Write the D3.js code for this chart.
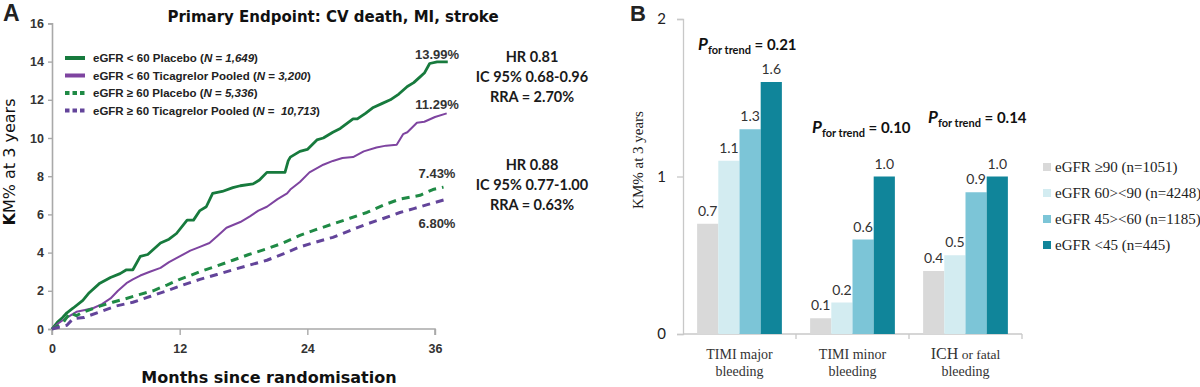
<!DOCTYPE html>
<html><head><meta charset="utf-8">
<script src="https://cdn.jsdelivr.net/npm/d3@7"></script>
<style>html,body{margin:0;padding:0;background:#fff;}svg{display:block;}</style>
</head><body>
<svg id="chart" width="1200" height="387"></svg>
<script>
// ---------- Panel A data ----------
const placeboLow = [[0,0],[0.5,0.35],[1,0.6],[1.4,0.85],[2,1.1],[2.9,1.5],[3.5,1.9],[4.5,2.4],[5.5,2.7],[6.4,2.9],[7,3.1],[7.6,3.1],[8.3,3.8],[9,3.9],[10.2,4.5],[11,4.7],[11.7,5.0],[12.7,5.7],[13.3,5.7],[13.9,6.2],[14.5,6.4],[15.1,7.1],[16,7.2],[17,7.4],[17.7,7.5],[18.9,7.6],[19.5,7.8],[20.2,8.2],[20.8,8.2],[21.9,8.2],[22.2,8.8],[22.4,9.0],[23.3,9.3],[24,9.4],[24.9,9.9],[25.5,10.0],[26.4,10.3],[27.1,10.5],[28.3,11.0],[28.7,11.0],[29.5,11.3],[30.2,11.6],[31,11.8],[31.8,12.0],[32.6,12.3],[33.4,12.7],[34,12.9],[34.6,13.2],[35,13.4],[35.5,13.9],[36.2,13.99],[37.2,13.99]];
const ticagLow = [[0,0],[0.6,0.3],[1.4,0.6],[2.3,0.9],[3.1,1.0],[3.9,1.1],[4.7,1.3],[5.5,1.6],[6.2,2.0],[7,2.4],[7.6,2.6],[8.3,2.8],[9.2,3.0],[10.2,3.2],[11,3.5],[12,3.8],[13,4.1],[13.9,4.3],[14.8,4.5],[15.6,4.9],[16.4,5.3],[17.7,5.6],[18.6,5.9],[19.4,6.2],[20.2,6.4],[21.2,6.8],[22.1,7.1],[22.4,7.3],[23.3,7.7],[24.2,8.2],[25.5,8.6],[26.4,8.8],[27.3,8.95],[28.3,9.0],[29.3,9.3],[30.5,9.5],[31.4,9.6],[32.4,9.65],[33,10.2],[33.4,10.3],[34.3,10.8],[35,10.85],[36,11.1],[37.1,11.29]];
const placeboHigh = [[0,0],[1,0.3],[1.7,0.85],[2.3,0.7],[3,0.9],[4.5,1.2],[5.7,1.4],[7,1.6],[8.2,1.8],[9.5,2.0],[10.8,2.3],[12,2.6],[13,2.8],[13.9,3.0],[15.5,3.3],[17,3.6],[18.5,3.9],[20.2,4.2],[21.7,4.5],[23.3,4.9],[24.8,5.2],[26.4,5.5],[28,5.8],[29.6,6.1],[31.2,6.5],[32.7,6.8],[34.6,7.0],[35.8,7.3],[36.8,7.43]];
const ticagHigh = [[0,0],[1.4,0.2],[2,0.55],[3,0.6],[4.5,0.9],[6,1.2],[7.6,1.4],[9.2,1.7],[10.8,2.0],[12.3,2.3],[13.9,2.6],[15.5,2.85],[17,3.1],[18.6,3.35],[20.2,3.6],[21.8,3.95],[23.3,4.3],[24.8,4.55],[26.4,4.8],[28,5.15],[29.6,5.5],[31.2,5.8],[32.7,6.1],[34,6.3],[35.2,6.5],[37.1,6.8]];
const seriesNamesA = ["eGFR < 60 Placebo", "eGFR < 60 Ticagrelor Pooled", "eGFR \u2265 60 Placebo", "eGFR \u2265 60 Ticagrelor Pooled"];
const seriesNA = ["1,649", "3,200", "5,336", " 10,713"];
const endLabelsA = ["13.99%", "11.29%", "7.43%", "6.80%"];
const xTicksA = [0, 12, 24, 36];
const yTicksA = [0, 2, 4, 6, 8, 10, 12, 14, 16];
const hrBlocks = [["HR 0.81", "IC 95% 0.68-0.96", "RRA = 2.70%"], ["HR 0.88", "IC 95% 0.77-1.00", "RRA = 0.63%"]];

// ---------- Panel B data ----------
const categoriesB = ["TIMI major|bleeding", "TIMI minor|bleeding", "ICH or fatal|bleeding"];
const groupsB = ["eGFR \u226590 (n=1051)", "eGFR 60><90 (n=4248)", "eGFR 45><60 (n=1185)", "eGFR <45 (n=445)"];
const valuesB = [[0.7, 1.1, 1.3, 1.6], [0.1, 0.2, 0.6, 1.0], [0.4, 0.5, 0.9, 1.0]];
const pTrend = ["0.21", "0.10", "0.14"];
const yTicksB = [0, 1, 2];

const svg = d3.select("#chart");

// ================= PANEL A =================
const xA = d3.scaleLinear().domain([0, 36]).range([52, 435]);
const yA = d3.scaleLinear().domain([0, 16]).range([329, 23.4]);
const axisCol = "#a9a9a9";
const sans = "'Liberation Sans', Arial, sans-serif";
const dv = "'DejaVu Sans', Verdana, sans-serif";

svg.append("text").attr("x", 3).attr("y", 21).text("A")
  .attr("font-family", sans).attr("font-weight", "bold").attr("font-size", 23).attr("fill", "#222");

svg.append("text").attr("x", 333).attr("y", 22).attr("text-anchor", "middle")
  .attr("font-family", dv).attr("font-weight", "bold").attr("font-size", 15).attr("fill", "#111")
  .text("Primary Endpoint: CV death, MI, stroke");

const gAy = svg.append("g").attr("transform", `translate(${xA(0)},0)`)
  .call(d3.axisLeft(yA).tickValues(yTicksA).tickSize(4).tickPadding(4));
const gAx = svg.append("g").attr("transform", `translate(0,${yA(0)})`)
  .call(d3.axisBottom(xA).tickValues(xTicksA).tickSize(6).tickPadding(9));
[gAy, gAx].forEach(g => {
  g.select(".domain").attr("stroke", axisCol).attr("stroke-width", 1.6);
  g.selectAll(".tick line").attr("stroke", axisCol).attr("stroke-width", 1.4);
  g.selectAll(".tick text").attr("font-family", sans).attr("font-weight", "bold").attr("font-size", 12.5).attr("fill", "#333");
});
gAx.select(".domain").attr("d", `M${xA(0)},6V0H${xA(36)}V6`);

svg.append("text").attr("transform", `translate(15,162) rotate(-90)`).attr("text-anchor", "middle")
  .attr("font-family", dv).attr("font-size", 16).attr("fill", "#111")
  .call(t => { t.append("tspan").attr("font-weight", "bold").text("K"); t.append("tspan").text("M% at 3 years"); });
svg.append("text").attr("x", 269).attr("y", 383).attr("text-anchor", "middle")
  .attr("font-family", dv).attr("font-weight", "bold").attr("font-size", 16).attr("fill", "#111")
  .text("Months since randomisation");

const colsA = ["#177a3d", "#7e44a0", "#1f8a45", "#63449a"];
const dashedA = [false, false, true, true];
const widthsA = [2.8, 2.0, 3.0, 3.0];
const dataA = [placeboLow, ticagLow, placeboHigh, ticagHigh];
const lineA = d3.line().x(d => xA(d[0])).y(d => yA(d[1]));
dataA.forEach((s, i) => {
  svg.append("path").datum(s).attr("d", lineA).attr("fill", "none")
    .attr("stroke", colsA[i]).attr("stroke-width", widthsA[i])
    .attr("stroke-dasharray", dashedA[i] ? "8,6" : null).attr("stroke-linejoin", "round");
});

// legend A
const legY = [62, 79.5, 97, 114.5];
seriesNamesA.forEach((nm, i) => {
  const y = legY[i] - 4;
  if (dashedA[i]) {
    for (let k = 0; k < 3; k++) svg.append("rect").attr("x", 65 + k * 7.5).attr("y", y - 2).attr("width", 4.5).attr("height", 4).attr("fill", colsA[i]);
  } else {
    svg.append("rect").attr("x", 65).attr("y", y - 2).attr("width", 20).attr("height", 4).attr("fill", colsA[i]);
  }
  const t = svg.append("text").attr("x", 93).attr("y", legY[i]).attr("font-family", sans)
    .attr("font-weight", "bold").attr("font-size", 11.5).attr("fill", "#222");
  t.append("tspan").text(nm + " (");
  t.append("tspan").attr("font-style", "italic").text("N");
  t.append("tspan").text(" = ");
  t.append("tspan").attr("font-style", "italic").attr("xml:space", "preserve").text(seriesNA[i]);
  t.append("tspan").text(")");
});

// end labels
const endOffsets = [-3, -4, -9, 29];
dataA.forEach((s, i) => {
  const last = s[s.length - 1];
  svg.append("text").attr("x", xA(36) + 2).attr("y", yA(last[1]) + endOffsets[i]).attr("text-anchor", "middle")
    .attr("font-family", sans).attr("font-weight", "bold").attr("font-size", 13).attr("fill", "#333")
    .text(endLabelsA[i]);
});

// HR blocks
const hrBase = [62, 170];
hrBlocks.forEach((blk, b) => {
  blk.forEach((ln, j) => {
    svg.append("text").attr("x", 532).attr("y", hrBase[b] + j * 20).attr("text-anchor", "middle")
      .attr("font-family", "Lato, sans-serif").attr("font-weight", "bold").attr("font-size", 14.5).attr("fill", "#1a1a1a")
      .text(ln);
  });
});

// ================= PANEL B =================
const serif = "'Liberation Serif', 'DejaVu Serif', serif";
const xB0 = d3.scaleBand().domain(categoriesB).range([683, 1022]).padding(0);
const xB1 = d3.scaleBand().domain(groupsB).range([xB0.bandwidth() * 0.125, xB0.bandwidth() * 0.875]).padding(0);
const yB = d3.scaleLinear().domain([0, 2]).range([334, 19]);
const colsB = ["#d9d9d9", "#d3ecf1", "#7cc5d7", "#10859a"];

svg.append("text").attr("x", 630).attr("y", 21).text("B")
  .attr("font-family", sans).attr("font-weight", "bold").attr("font-size", 22).attr("fill", "#222");

const gBy = svg.append("g").attr("transform", `translate(683,0)`)
  .call(d3.axisLeft(yB).tickValues(yTicksB).tickFormat(d3.format("d")).tickSize(6).tickPadding(11));
gBy.select(".domain").attr("stroke", "#c8c8c8").attr("stroke-width", 1.3);
gBy.selectAll(".tick line").attr("stroke", "#c8c8c8").attr("stroke-width", 1.3);
gBy.selectAll(".tick text").attr("font-family", "Lato, sans-serif").attr("font-size", 15).attr("fill", "#222");

// x axis B
svg.append("line").attr("x1", 683).attr("x2", 1022).attr("y1", yB(0)).attr("y2", yB(0)).attr("stroke", "#c8c8c8").attr("stroke-width", 1.3);
categoriesB.forEach((c, i) => {
  const xe = xB0(c) + xB0.bandwidth();
  svg.append("line").attr("x1", xe).attr("x2", xe).attr("y1", yB(0)).attr("y2", yB(0) + 5).attr("stroke", "#c8c8c8").attr("stroke-width", 1.3);
});

svg.append("text").attr("transform", `translate(643,160) rotate(-90)`).attr("text-anchor", "middle")
  .attr("font-family", serif).attr("font-size", 15).attr("fill", "#222").text("KM% at 3 years");

categoriesB.forEach((c, ci) => {
  const g = svg.append("g").attr("transform", `translate(${xB0(c)},0)`);
  valuesB[ci].forEach((v, si) => {
    g.append("rect").attr("x", xB1(groupsB[si])).attr("y", yB(v)).attr("width", xB1.bandwidth())
      .attr("height", yB(0) - yB(v)).attr("fill", colsB[si]);
    g.append("text").attr("x", xB1(groupsB[si]) + xB1.bandwidth() / 2).attr("y", yB(v) - 8)
      .attr("text-anchor", "middle").attr("font-family", "Lato, sans-serif").attr("font-size", 14).attr("fill", "#333")
      .text(d3.format(".1f")(v));
  });
  const lines = c.split("|");
  lines.forEach((ln, li) => {
    const t = g.append("text").attr("x", xB0.bandwidth() / 2).attr("y", 359 + li * 17).attr("text-anchor", "middle")
      .attr("font-family", serif).attr("font-size", 14).attr("fill", "#333");
    if (ln.startsWith("ICH")) {
      t.append("tspan").attr("font-size", 16).text("ICH");
      t.append("tspan").attr("font-size", 13.5).text(ln.slice(3));
    } else {
      t.text(ln);
    }
  });
});

// P for trend
const pPos = [[15, 50], [16, 133], [19, 123]];
categoriesB.forEach((c, ci) => {
  const t = svg.append("text").attr("x", xB0(c) + pPos[ci][0]).attr("y", pPos[ci][1])
    .attr("font-family", "Lato, sans-serif").attr("font-weight", "bold").attr("fill", "#111");
  t.append("tspan").attr("font-style", "italic").attr("font-size", 17).text("P");
  t.append("tspan").attr("font-size", 11).attr("dy", 4).text("for trend");
  t.append("tspan").attr("font-size", 15).attr("dy", -4).attr("xml:space", "preserve").text(" = " + pTrend[ci]);
});

// legend B
groupsB.forEach((gname, i) => {
  const y = 172 + i * 26;
  svg.append("rect").attr("x", 1043).attr("y", y - 9).attr("width", 8).attr("height", 8).attr("fill", colsB[i]);
  svg.append("text").attr("x", 1055).attr("y", y).attr("font-family", serif).attr("font-size", 15).attr("fill", "#222").text(gname);
});
</script>
</body></html>
